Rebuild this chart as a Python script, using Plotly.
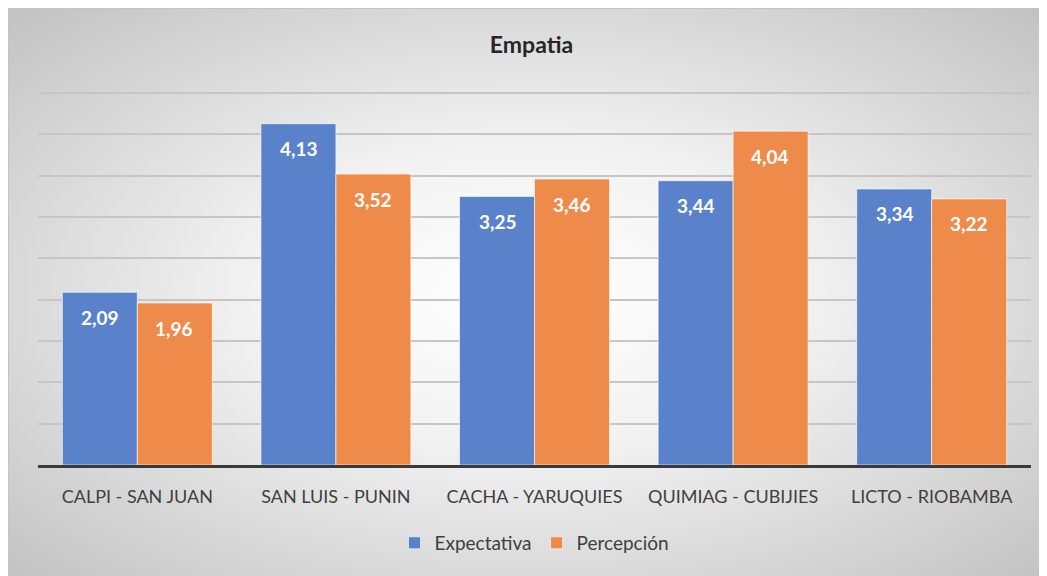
import plotly.graph_objects as go
import urllib.parse

# datos
zonas = ["CALPI - SAN JUAN", "SAN LUIS - PUNIN", "CACHA - YARUQUIES",
         "QUIMIAG - CUBIJIES", "LICTO - RIOBAMBA"]
expectativa = [2.09, 4.13, 3.25, 3.44, 3.34]
percepcion = [1.96, 3.52, 3.46, 4.04, 3.22]

azul = "#5A82CB"
naranja = "#EE8B4A"
gris_txt = "#404040"

fig = go.Figure()
fig.add_trace(go.Bar(x=zonas, y=expectativa, name="Expectativa",
                     marker=dict(color=azul, line=dict(color="rgba(255,255,255,0.6)", width=1))))
fig.add_trace(go.Bar(x=zonas, y=percepcion, name="Percepción",
                     marker=dict(color=naranja, line=dict(color="rgba(255,255,255,0.6)", width=1))))

# etiquetas de datos (coma decimal)
for serie, shift in ((expectativa, -37), (percepcion, 37)):
    for z, v in zip(zonas, serie):
        fig.add_annotation(x=z, y=v, text="<b>%s</b>" % f"{v:.2f}".replace(".", ","),
                           showarrow=False, xshift=shift, yshift=-25, yanchor="middle",
                           font=dict(color="white", size=19, family="Lato"))

# fondo degradado radial
svg = ('<svg xmlns="http://www.w3.org/2000/svg" width="1037" height="576" viewBox="0 0 1037 576" preserveAspectRatio="none">'
       '<defs><radialGradient id="g" cx="50%" cy="50%" r="75%">'
       '<stop offset="0" stop-color="#ffffff"/><stop offset="0.35" stop-color="#f2f2f2"/>'
       '<stop offset="1" stop-color="#bdbdbd"/></radialGradient></defs>'
       '<rect width="1037" height="576" fill="url(#g)"/></svg>')
src = "data:image/svg+xml;charset=utf-8," + urllib.parse.quote(svg)

# area de trazado: 993 x 376 px, margen izq 30, arriba 81
H = 376
fig.add_layout_image(source=src, xref="paper", yref="paper", x=-30/993, y=457/H,
                     sizex=1037/993, sizey=576/H, xanchor="left", yanchor="top",
                     sizing="stretch", layer="below")
fig.add_shape(type="rect", xref="paper", yref="paper", x0=-29.5/993, x1=1006.5/993,
              y0=-130/H, y1=456.5/H, line=dict(color="#c4c4c4", width=1))

fig.update_layout(
    width=1047, height=576,
    margin=dict(l=30, r=24, t=81, b=119),
    paper_bgcolor="white", plot_bgcolor="rgba(0,0,0,0)",
    font=dict(family="Lato", color=gris_txt),
    title=dict(text="<b>Empatia</b>", x=0.5, xanchor="center", y=1 - 37/576, yanchor="middle",
               font=dict(size=23, color="#262626", family="Lato")),
    barmode="group", bargap=0.245, bargroupgap=0,
    showlegend=True,
    legend=dict(orientation="h", x=0.5, xanchor="center", y=-78/H, yanchor="middle",
                font=dict(size=19, color=gris_txt), bgcolor="rgba(0,0,0,0)"),
)
fig.update_xaxes(showline=True, linecolor="#3a3a3a", linewidth=3, ticks="outside",
                 ticklen=13, tickcolor="rgba(0,0,0,0)", tickfont=dict(size=18, color=gris_txt))
fig.update_yaxes(range=[0, 4.55], tick0=0, dtick=0.5, showticklabels=False, showgrid=True,
                 gridcolor="#c6c6c6", gridwidth=1.5, zeroline=False)

fig.write_html("out.html")
